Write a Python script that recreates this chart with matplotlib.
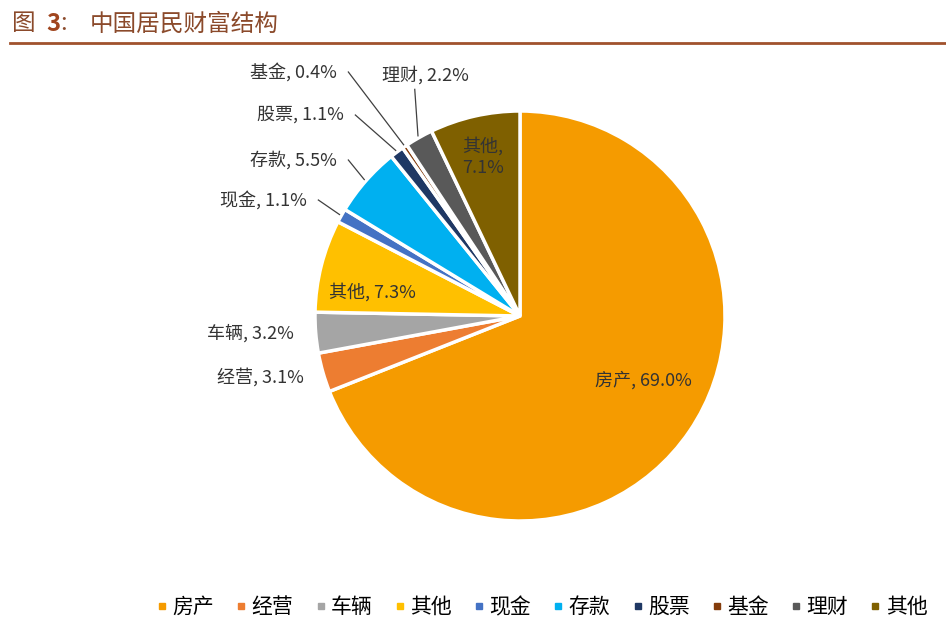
import matplotlib

matplotlib.use("Agg")
import matplotlib.pyplot as plt
from matplotlib.lines import Line2D
import numpy as np

plt.rcParams["font.family"] = "Noto Sans CJK SC"

categories = ["房产", "经营", "车辆", "其他", "现金", "存款", "股票", "基金", "理财", "其他"]
shares = [69.0, 3.1, 3.2, 7.3, 1.1, 5.5, 1.1, 0.4, 2.2, 7.1]
colors = ["#F59B00", "#ED7D31", "#A5A5A5", "#FFC000", "#4472C4", "#00B0F0",
          "#1F3864", "#843C0C", "#595959", "#7F6000"]

# label text centres in pixels (x, y from top) and whether they sit inside the slice
CX, CY, R = 520, 316, 205
label_px = [(643, 380), (260, 377), (250, 333), (372, 292), (263, 200),
            (293, 160), (300, 115), (293, 72), (425, 75), (483, 157)]
inside = [True, False, False, True, False, False, False, False, False, True]

W, H = 946, 627
fig = plt.figure(figsize=(W / 100, H / 100), dpi=100)
ax = fig.add_axes([0, 0, 1, 1])

wedges, _ = ax.pie(shares, colors=colors, startangle=90, counterclock=False,
                   radius=1, wedgeprops=dict(edgecolor="white", linewidth=2.5))
ax.set_aspect("auto")
ax.set_xlim(-CX / R, (W - CX) / R)
ax.set_ylim((CY - H) / R, CY / R)
ax.axis("off")

for i, (w, v) in enumerate(zip(wedges, shares)):
    px, py = label_px[i]
    tx, ty = (px - CX) / R, (CY - py) / R
    txt = f"{categories[i]}, {v:.1f}%"
    if i == len(shares) - 1:
        txt = f"{categories[i]},\n{v:.1f}%"
    ax.text(tx, ty, txt, ha="center", va="center", fontsize=13, color="#333333")
    if inside[i] or i in (1, 2):
        continue
    ang = np.deg2rad((w.theta1 + w.theta2) / 2)
    ex, ey = np.cos(ang), np.sin(ang)
    if i == 8:
        sx, sy = tx - 0.05, ty - 0.07
    else:
        sx, sy = tx + 0.27, ty
    ax.plot([sx, ex * 1.01], [sy, ey * 1.01], color="#404040", lw=0.9)

# title and rule
fig.text(12 / W, 1 - 24 / H, "图", fontsize=17, color="#8B4A2B", va="center")
fig.text(46 / W, 1 - 24 / H, "3", fontsize=17, color="#A0451E", va="center", weight="bold")
fig.text(60 / W, 1 - 24 / H, ":", fontsize=17, color="#8B4A2B", va="center")
fig.text(90 / W, 1 - 24 / H, "中国居民财富结构", fontsize=17, color="#8B4A2B", va="center")
fig.add_artist(Line2D([10 / W, 1], [1 - 43 / H] * 2, color="#A0522D", lw=2))

handles = [Line2D([], [], marker="s", ls="", color=c, markersize=5) for c in colors]
fig.legend(handles, categories, loc="center left", bbox_to_anchor=(135 / W, 1 - 607 / H),
           ncol=len(categories), frameon=False, fontsize=15, handletextpad=0.1,
           columnspacing=0.9, handlelength=0.8)

fig.savefig("out.png", dpi=100)
